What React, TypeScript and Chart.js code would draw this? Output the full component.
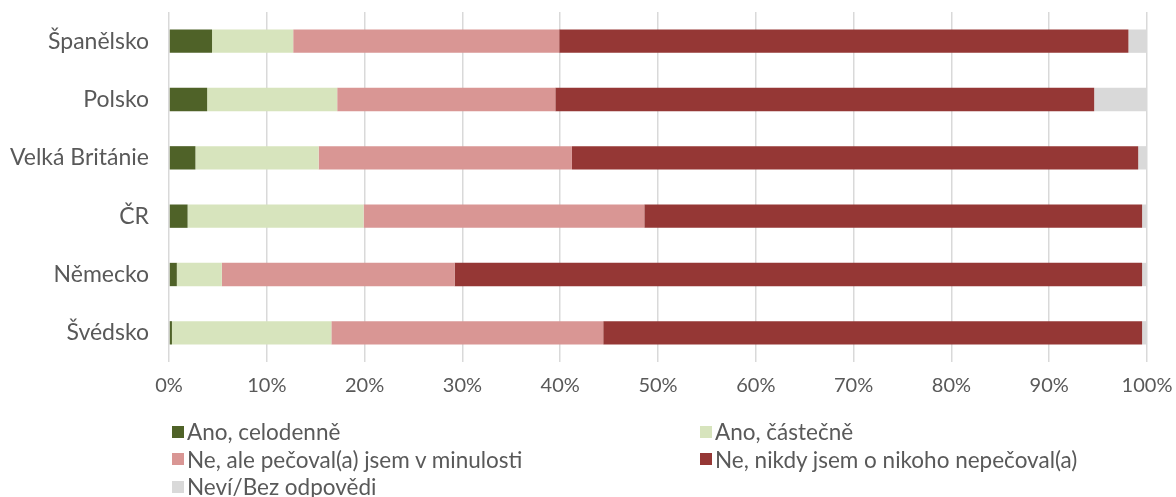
import React, { useEffect, useRef } from "react";
import { Chart, registerables } from "chart.js";

Chart.register(...registerables);

const countries = ["Španělsko", "Polsko", "Velká Británie", "ČR", "Německo", "Švédsko"];
const seriesNames = [
  "Ano, celodenně",
  "Ano, částečně",
  "Ne, ale pečoval(a) jsem v minulosti",
  "Ne, nikdy jsem o nikoho nepečoval(a)",
  "Neví/Bez odpovědi",
];
const anoCelodenne = [4.4, 3.9, 2.7, 1.9, 0.8, 0.3];
const anoCastecne = [8.3, 13.3, 12.6, 18.0, 4.6, 16.3];
const neVMinulosti = [27.2, 22.3, 25.9, 28.7, 23.8, 27.8];
const neNikdy = [58.2, 55.1, 57.9, 50.9, 70.3, 55.1];
const nevi = [1.9, 5.4, 0.9, 0.5, 0.5, 0.5];
const colors = ["#4F6228", "#D7E4BD", "#D99694", "#953735", "#D9D9D9"];
const xTicks = [0, 10, 20, 30, 40, 50, 60, 70, 80, 90, 100];

const FONT = "Lato, 'Open Sans', sans-serif";
const TEXT = "#595959";

export default function App() {
  const ref = useRef<HTMLCanvasElement | null>(null);
  useEffect(() => {
    if (!ref.current) return;
    const values = [anoCelodenne, anoCastecne, neVMinulosti, neNikdy, nevi];
    const chart = new Chart(ref.current, {
      type: "bar",
      data: {
        labels: countries,
        datasets: values.map((d, i) => ({
          label: seriesNames[i],
          data: d,
          backgroundColor: colors[i],
          borderWidth: 0,
          categoryPercentage: 0.4,
          barPercentage: 1,
        })),
      },
      options: {
        indexAxis: "y",
        animation: false,
        responsive: false,
        maintainAspectRatio: false,
        layout: { padding: { left: 0, right: 29, top: 12, bottom: 0 } },
        plugins: { legend: { display: false }, tooltip: { enabled: false } },
        scales: {
          x: {
            stacked: true,
            min: 0,
            max: 100,
            afterBuildTicks: (s: any) => {
              s.ticks = xTicks.map((v) => ({ value: v }));
            },
            afterFit: (s: any) => {
              s.height = 135;
              s.paddingLeft = 0;
              s.paddingRight = 0;
            },
            grid: { color: "#D9D9D9", lineWidth: 1.5, drawTicks: false },
            border: { display: false },
            ticks: {
              padding: 12,
              color: TEXT,
              font: { family: FONT, size: 20 },
              callback: (v: any) => v + "%",
              maxRotation: 0,
            },
          },
          y: {
            stacked: true,
            afterFit: (s: any) => {
              s.width = 169;
              s.paddingTop = 0;
              s.paddingBottom = 0;
            },
            grid: { display: false, drawTicks: false },
            border: { display: false },
            ticks: {
              padding: 20,
              color: TEXT,
              font: { family: FONT, size: 23 },
            },
          },
        },
      },
    } as any);
    return () => chart.destroy();
  }, []);

  const legendItem = (i: number) => (
    <div
      key={i}
      style={{ display: "flex", alignItems: "center", height: 27.5, whiteSpace: "nowrap" }}
    >
      <span
        style={{
          display: "inline-block",
          width: 12,
          height: 12,
          background: colors[i],
          marginRight: 3,
        }}
      />
      <span>{seriesNames[i]}</span>
    </div>
  );

  return (
    <div style={{ position: "absolute", left: 0, top: 0, width: 1176, height: 497, background: "#fff" }}>
      <canvas ref={ref} width={1176} height={497} style={{ position: "absolute", left: 0, top: 0 }} />
      <div
        style={{
          position: "absolute",
          left: 172,
          top: 418,
          fontFamily: FONT,
          fontSize: 22.5,
          lineHeight: "27px",
          color: TEXT,
          display: "grid",
          gridTemplateColumns: "528px 400px",
        }}
      >
        {legendItem(0)}
        {legendItem(1)}
        {legendItem(2)}
        {legendItem(3)}
        {legendItem(4)}
      </div>
    </div>
  );
}
